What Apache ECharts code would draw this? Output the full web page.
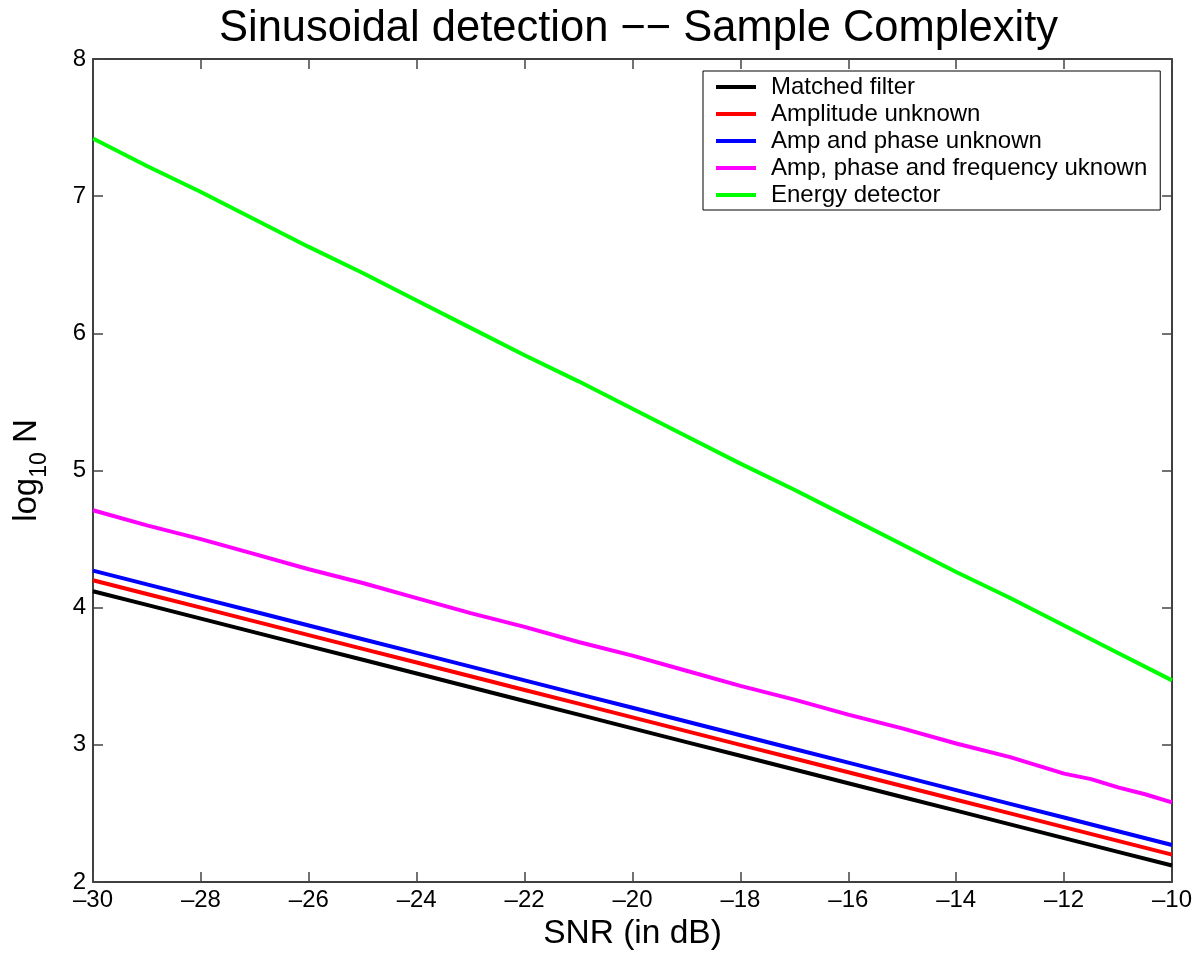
<!DOCTYPE html>
<html>
<head>
<meta charset="utf-8">
<script src="https://cdn.jsdelivr.net/npm/echarts@6/dist/echarts.min.js"></script>
<style>
html,body{margin:0;padding:0;background:#fff;}
#chart{width:1199px;height:956px;}
</style>
</head>
<body>
<div id="chart"></div>
<script>
// SNR in dB
const snr = [-30,-29,-28,-27,-26,-25,-24,-23,-22,-21,-20,-19,-18,-17,-16,-15,-14,-13,-12,-11,-10];
const matchedFilter = [4.12,4.02,3.92,3.82,3.72,3.62,3.52,3.42,3.32,3.22,3.12,3.02,2.92,2.82,2.72,2.62,2.52,2.42,2.32,2.22,2.12];
const amplitudeUnknown = [4.20,4.10,4.00,3.90,3.80,3.70,3.60,3.50,3.40,3.30,3.20,3.10,3.00,2.90,2.80,2.70,2.60,2.50,2.40,2.30,2.20];
const ampPhaseUnknown = [4.27,4.17,4.07,3.97,3.87,3.77,3.67,3.57,3.47,3.37,3.27,3.17,3.07,2.97,2.87,2.77,2.67,2.57,2.47,2.37,2.27];
const ampPhaseFreqSnr = [-30,-29,-28,-27,-26,-25,-24,-23,-22,-21,-20,-19,-18,-17,-16,-15,-14,-13,-12.5,-12,-11.5,-11,-10.5,-10];
const ampPhaseFreqUnknown = [4.71,4.60,4.50,4.39,4.28,4.18,4.07,3.96,3.86,3.75,3.65,3.54,3.43,3.33,3.22,3.12,3.01,2.91,2.85,2.79,2.75,2.69,2.64,2.58];
const energyDetector = [7.42,7.22,7.03,6.83,6.63,6.44,6.24,6.04,5.84,5.65,5.45,5.25,5.05,4.86,4.66,4.46,4.26,4.07,3.87,3.67,3.47];
const seriesNames = ['Matched filter','Amplitude unknown','Amp and phase unknown','Amp, phase and frequency uknown','Energy detector'];
const seriesColors = ['#000000','#ff0000','#0000ff','#ff00ff','#00ff00'];
const xTicks = [-30,-28,-26,-24,-22,-20,-18,-16,-14,-12,-10];
const yTicks = [2,3,4,5,6,7,8];

const FONT = '"Liberation Sans", Arial, Helvetica, sans-serif';
const chart = echarts.init(document.getElementById('chart'), null, {renderer:'canvas'});

function pairs(xs, ys){ return xs.map((x,i)=>[x, ys[i]]); }
const dataSets = [
  pairs(snr, matchedFilter),
  pairs(snr, amplitudeUnknown),
  pairs(snr, ampPhaseUnknown),
  pairs(ampPhaseFreqSnr, ampPhaseFreqUnknown),
  pairs(snr, energyDetector)
];

const fmtX = v => v < 0 ? '\u2013' + Math.abs(v) : String(v);

const axisCommon = {
  axisLine:{show:true, onZero:false, lineStyle:{color:'#000', width:1.5}},
  axisTick:{show:true, inside:true, length:10, lineStyle:{color:'#444', width:1.5}},
  splitLine:{show:false}
};

const option = {
  backgroundColor:'#fff',
  animation:false,
  title:{
    text:'Sinusoidal detection \u2212\u2212 Sample Complexity',
    left:214, top:2,
    textStyle:{fontFamily:FONT, fontSize:43.5, fontWeight:'normal', color:'#000'}
  },
  legend:{
    orient:'vertical', left:703, top:71,
    backgroundColor:'#fff',
    borderColor:'#000', borderWidth:1,
    padding:[4,13,3,13],
    itemWidth:40, itemHeight:4, itemGap:3,
    icon:'rect',
    textStyle:{fontFamily:FONT, fontSize:24, color:'#000', padding:[0,0,0,10], lineHeight:24},
    data:seriesNames
  },
  grid:{left:93, right:27, top:59, bottom:74, containLabel:false},
  xAxis:[
    Object.assign({
      type:'value', min:-30, max:-10, interval:2, position:'bottom',
      name:'SNR (in dB)', nameLocation:'middle', nameGap:34,
      nameTextStyle:{fontFamily:FONT, fontSize:33.5, color:'#000'},
      axisLabel:{fontFamily:FONT, fontSize:24, color:'#000', margin:6, formatter:fmtX}
    }, axisCommon),
    Object.assign({
      type:'value', min:-30, max:-10, interval:2, position:'top',
      axisLabel:{show:false}
    }, axisCommon)
  ],
  yAxis:[
    Object.assign({
      type:'value', min:2, max:8, interval:1, position:'left',
      name:'{a|log}{s|10}{a| N}', nameLocation:'middle', nameGap:50, nameRotate:90,
      nameTextStyle:{fontFamily:FONT, fontSize:33, color:'#000',
        rich:{
          a:{fontFamily:FONT, fontSize:33, color:'#000', lineHeight:40, verticalAlign:'bottom'},
          s:{fontFamily:FONT, fontSize:23, color:'#000', lineHeight:40, verticalAlign:'bottom', padding:[0,0,-8,0]}
        }},
      axisLabel:{fontFamily:FONT, fontSize:24, color:'#000', margin:7}
    }, axisCommon),
    Object.assign({
      type:'value', min:2, max:8, interval:1, position:'right',
      axisLabel:{show:false}
    }, axisCommon)
  ],
  series: seriesNames.map((n,i)=>({
    name:n, type:'line', xAxisIndex:0, yAxisIndex:0,
    data:dataSets[i], showSymbol:false, symbol:'none',
    lineStyle:{color:seriesColors[i], width:4},
    itemStyle:{color:seriesColors[i]},
    z: 2 + i
  }))
};
chart.setOption(option);
</script>
</body>
</html>
